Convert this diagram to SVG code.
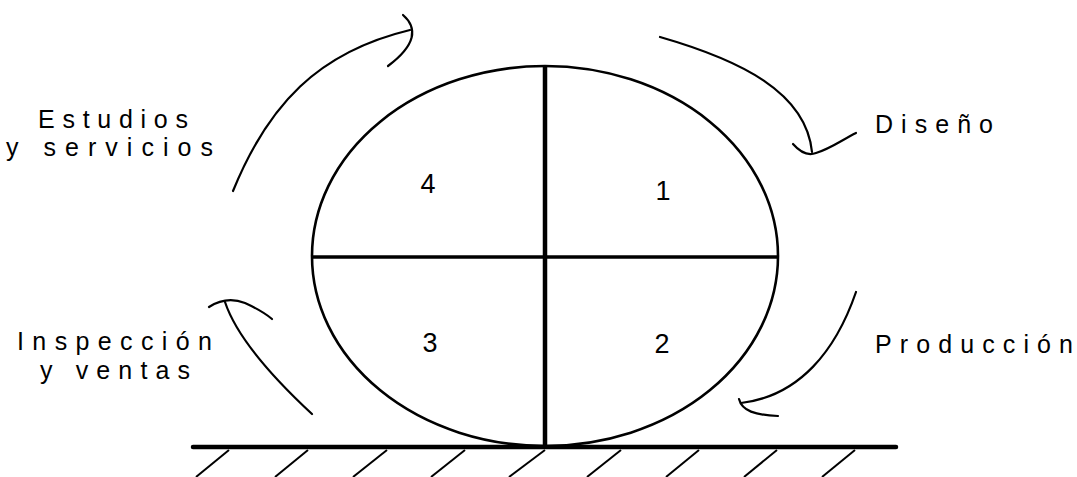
<svg xmlns="http://www.w3.org/2000/svg" width="1077" height="477" viewBox="0 0 1077 477">
<style>
.lbl{font-family:"Liberation Sans",Arial,sans-serif;font-size:25px;fill:#000}
.num{font-family:"Liberation Sans",Arial,sans-serif;font-size:27px;fill:#000;text-anchor:middle}
.arr{fill:none;stroke:#000;stroke-width:2.2;stroke-linecap:round}
.thick{stroke:#000;stroke-width:4;fill:none}
.hatch{stroke:#000;stroke-width:2}
</style>
<rect width="1077" height="477" fill="#fff"/>
<g id="wheel">
<ellipse cx="545" cy="256" rx="233" ry="190" fill="none" stroke="#000" stroke-width="2.6"/>
<line class="thick" x1="312" y1="257" x2="778" y2="257" style="stroke-width:3.5"/>
<line class="thick" x1="545" y1="65" x2="545" y2="447" style="stroke-width:4.5"/>
</g>
<g id="q1"><text class="num" x="663" y="200">1</text></g>
<g id="q2"><text class="num" x="662" y="353">2</text></g>
<g id="q3"><text class="num" x="430" y="352">3</text></g>
<g id="q4"><text class="num" x="428" y="193">4</text></g>
<g id="ground">
<line x1="193" y1="447" x2="896" y2="447" stroke="#000" stroke-width="4.5" stroke-linecap="round"/>
<g class="hatch">
<line x1="229" y1="450" x2="196" y2="477"/>
<line x1="308" y1="450" x2="275" y2="477"/>
<line x1="387" y1="450" x2="353" y2="477"/>
<line x1="465" y1="450" x2="431" y2="477"/>
<line x1="545" y1="450" x2="509" y2="477"/>
<line x1="621" y1="450" x2="587" y2="477"/>
<line x1="699" y1="450" x2="666" y2="477"/>
<line x1="777" y1="450" x2="744" y2="477"/>
<line x1="855" y1="450" x2="822" y2="477"/>
</g>
</g>
<g id="connectors">
<path class="arr" d="M233,191 C268,105 318,52 410,30"/>
<path class="arr" d="M403,15 C418,28 416,45 388,66"/>
<path class="arr" d="M660,37 C740,60 806,92 812,152"/>
<path class="arr" d="M793,144 C800,152 808,156 816,153 C830,149 842,140 856,133"/>
<path class="arr" d="M856,292 C836,350 800,396 741,403"/>
<path class="arr" d="M739,399 C742,411 755,415 778,416"/>
<path class="arr" d="M312,414 C270,375 236,335 225,302"/>
<path class="arr" d="M209,307 C220,300 232,298 245,303 C256,308 265,313 272,319"/>
</g>
<g id="label-estudios">
<text class="lbl" x="38" y="128" textLength="150" lengthAdjust="spacing">Estudios</text>
<text class="lbl" x="6" y="156" textLength="207" lengthAdjust="spacing">y servicios</text>
</g>
<g id="label-diseno"><text class="lbl" x="875" y="133" textLength="118" lengthAdjust="spacing">Diseño</text></g>
<g id="label-inspeccion">
<text class="lbl" x="17" y="350" textLength="195" lengthAdjust="spacing">Inspección</text>
<text class="lbl" x="40" y="379" textLength="150" lengthAdjust="spacing">y ventas</text>
</g>
<g id="label-produccion"><text class="lbl" x="875" y="353" textLength="198" lengthAdjust="spacing">Producción</text></g>
</svg>
